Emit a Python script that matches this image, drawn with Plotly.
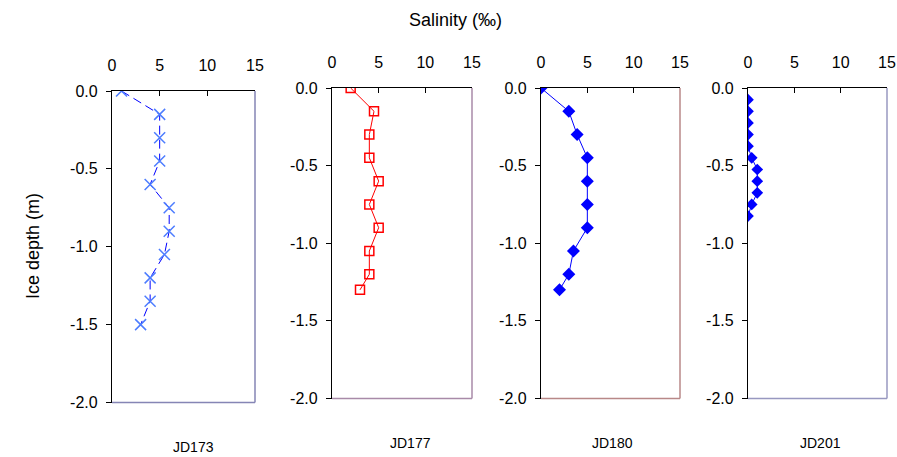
import plotly.graph_objects as go

# Salinity profiles (per mil) against ice depth (m) for four sampling days
jd173_depth = [0.0, -0.15, -0.30, -0.45, -0.60, -0.75, -0.90, -1.05, -1.20, -1.35, -1.50]
jd173_sal = [1, 5, 5, 5, 4, 6, 6, 5.5, 4, 4, 3]

jd177_depth = [0.0, -0.15, -0.30, -0.45, -0.60, -0.75, -0.90, -1.05, -1.20, -1.30]
jd177_sal = [2, 4.5, 4, 4, 5, 4, 5, 4, 4, 3]

jd180_depth = [0.0, -0.15, -0.30, -0.45, -0.60, -0.75, -0.90, -1.05, -1.20, -1.30]
jd180_sal = [0, 3, 3.9, 5, 5, 5, 5, 3.5, 3, 2]

jd201_depth = [-0.075, -0.15, -0.225, -0.30, -0.375, -0.45, -0.525, -0.60, -0.675, -0.75, -0.825]
jd201_sal = [0, 0, 0, 0, 0, 0.4, 1, 1, 1, 0.4, 0]

panel_names = ["JD173", "JD177", "JD180", "JD201"]
x_ticks = [0, 5, 10, 15]
y_ticks = [0.0, -0.5, -1.0, -1.5, -2.0]

W, H = 897, 457
FONT = "Liberation Sans, Arial, sans-serif"


def px_x(v):
    return v / W


def px_y(v):
    return 1 - v / H


# panel boxes in pixels: left, right, top, bottom
boxes = [
    (112, 255, 91, 402.5),
    (332, 472, 88, 398.5),
    (541, 680, 88, 398.5),
    (748, 887, 88, 398.5),
]
# centre of each panel's day label
label_x = [193, 410, 612, 820]
frame_colors = ["#8585b5", "#a88aa8", "#b88888", "#9898c0"]

fig = go.Figure()

fig.add_trace(go.Scatter(
    x=jd173_sal, y=jd173_depth, mode="lines+markers",
    line=dict(color="#0000ff", width=1, dash="9px,5px"),
    marker=dict(symbol="x-thin-open", size=11, color="#4d7dff",
                line=dict(color="#4d7dff", width=1.5)),
    xaxis="x", yaxis="y", showlegend=False))

fig.add_trace(go.Scatter(
    x=jd177_sal, y=jd177_depth, mode="lines+markers",
    line=dict(color="#ff0000", width=1),
    marker=dict(symbol="square-open", size=9, color="#ff0000",
                line=dict(color="#ff0000", width=1.5)),
    xaxis="x2", yaxis="y2", showlegend=False))

fig.add_trace(go.Scatter(
    x=jd180_sal, y=jd180_depth, mode="lines+markers",
    line=dict(color="#0000ff", width=1),
    marker=dict(symbol="diamond", size=10, color="#0000ff"),
    xaxis="x3", yaxis="y3", showlegend=False))

fig.add_trace(go.Scatter(
    x=jd201_sal, y=jd201_depth, mode="lines+markers",
    line=dict(color="#0000ff", width=1),
    marker=dict(symbol="diamond", size=9, color="#0000ff"),
    xaxis="x4", yaxis="y4", showlegend=False))

layout = dict(
    width=W, height=H,
    margin=dict(l=0, r=0, t=0, b=0, autoexpand=False),
    paper_bgcolor="white", plot_bgcolor="white",
    font=dict(family=FONT, color="black"),
)

shapes = []
annotations = []
for i, (l, r, t, b) in enumerate(boxes):
    sx = "" if i == 0 else str(i + 1)
    xd = [px_x(l), px_x(r)]
    yd = [px_y(b), px_y(t)]
    layout["xaxis" + sx] = dict(
        domain=xd, range=[0, 15], side="top", anchor="y" + sx,
        tickvals=x_ticks, ticktext=[str(v) for v in x_ticks],
        ticks="inside", ticklen=5, tickcolor="black",
        showline=True, linecolor="black", linewidth=1.2,
        showgrid=False, zeroline=False, fixedrange=True, automargin=False,
        tickfont=dict(size=16, family=FONT), ticklabelstandoff=13,
    )
    layout["yaxis" + sx] = dict(
        domain=yd, range=[-2.0, 0.0], anchor="x" + sx,
        tickvals=y_ticks, ticktext=["%.1f" % v for v in y_ticks],
        ticks="outside", ticklen=5, tickcolor="black",
        showline=True, linecolor="black", linewidth=1.2,
        showgrid=False, zeroline=False, fixedrange=True, automargin=False,
        tickfont=dict(size=16, family=FONT), ticklabelstandoff=5,
    )
    # right and bottom frame edges
    xr = "x" + sx + " domain"
    yr = "y" + sx + " domain"
    shapes.append(dict(type="line", xref=xr, yref=yr, x0=1, x1=1, y0=0, y1=1,
                       line=dict(color=frame_colors[i], width=1.5)))
    shapes.append(dict(type="line", xref=xr, yref=yr, x0=0, x1=1, y0=0, y1=0,
                       line=dict(color=frame_colors[i], width=1.5)))
    annotations.append(dict(
        text=panel_names[i], xref="paper", yref="paper",
        x=px_x(label_x[i]), y=px_y(b + 44.5),
        showarrow=False, font=dict(size=14, family=FONT),
        xanchor="center", yanchor="middle"))

annotations.append(dict(text="Salinity (‰)", xref="paper", yref="paper",
                        x=px_x(455), y=px_y(20), showarrow=False,
                        font=dict(size=18, family=FONT), xanchor="center", yanchor="middle"))
annotations.append(dict(text="Ice depth (m)", xref="paper", yref="paper",
                        x=px_x(33), y=px_y(246), showarrow=False, textangle=-90,
                        font=dict(size=18, family=FONT), xanchor="center", yanchor="middle"))

layout["shapes"] = shapes
layout["annotations"] = annotations
fig.update_layout(**layout)

fig.write_html("out.html")
